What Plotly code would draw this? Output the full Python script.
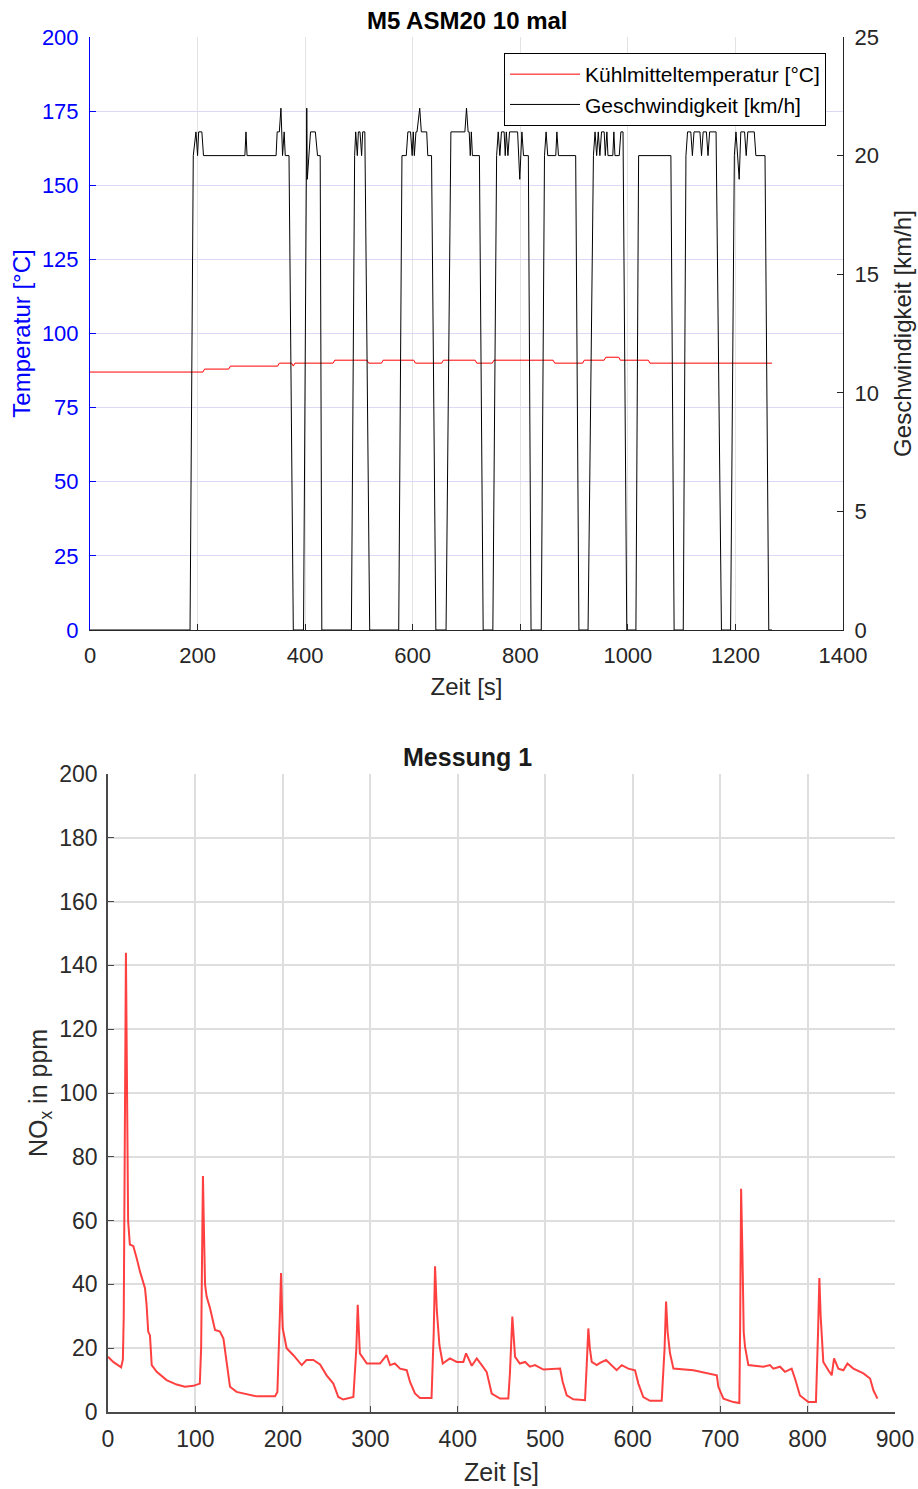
import plotly.graph_objects as go

# ---------------- data: top chart ----------------
speed_time = [0, 186, 192, 197, 200, 202, 208, 211, 288, 290, 292, 346, 348, 352, 355, 358, 361, 363, 370, 378,
              397, 403, 404, 410, 419, 423, 428, 431,
              486, 492, 494, 497, 499, 502, 505, 507, 511, 520,
              574, 580, 588, 591, 596, 599, 601, 603, 606, 608, 613, 616, 626, 628, 635, 643,
              662, 671, 697, 700, 703, 705, 707, 709, 711, 724, 731,
              749, 756, 759, 762, 765, 770, 772, 774, 777, 780, 795, 799, 803, 806, 815, 820,
              839, 845, 848, 851, 866, 868, 871, 903, 909,
              926, 936, 939, 942, 945, 948, 951, 956, 958, 961, 963, 972, 974, 976, 984, 987, 991, 998,
              1015, 1020, 1080, 1086,
              1103, 1108, 1111, 1117, 1120, 1123, 1134, 1137, 1140, 1146, 1149, 1152, 1164, 1174,
              1191, 1198, 1201, 1204, 1207, 1210, 1217, 1220, 1223, 1235, 1238, 1255, 1262, 1268]
speed_kmh = [0, 0, 20, 21, 20, 21, 21, 20, 20, 21, 20, 20, 21, 21, 22, 20, 21, 20, 20, 0,
             0, 22, 19, 21, 21, 20, 20, 0,
             0, 20, 21, 20, 21, 21, 20, 21, 21, 0,
             0, 20, 20, 21, 21, 20, 21, 20, 21, 21, 22, 21, 21, 20, 20, 0,
             0, 21, 21, 22, 21, 21, 20, 21, 20, 20, 0,
             0, 20, 21, 20, 21, 21, 20, 21, 20, 21, 21, 19, 21, 20, 20, 0,
             0, 20, 21, 20, 20, 21, 20, 20, 0,
             0, 20, 21, 20, 21, 20, 21, 21, 20, 21, 20, 20, 21, 20, 20, 21, 21, 0,
             0, 20, 20, 0,
             0, 20, 21, 21, 20, 21, 21, 20, 21, 21, 20, 21, 21, 0,
             0, 20, 21, 20, 19, 21, 21, 20, 21, 21, 20, 20, 0, 0]

temp_time = [0, 210, 213, 258, 261, 349, 352, 375, 378, 381, 452, 455, 515, 518, 542, 545, 602, 605,
             654, 657, 716, 719, 748, 751, 861, 864, 916, 919, 956, 959, 983, 986, 1038, 1041, 1268]
temp_c = [87, 87, 88, 88, 89, 89, 90, 90, 89, 90, 90, 91, 91, 90, 90, 91, 91, 90,
          90, 91, 91, 90, 90, 91, 91, 90, 90, 91, 91, 92, 92, 91, 91, 90, 90]

# ---------------- data: bottom chart ----------------
nox_time = [0, 6, 15, 17, 18, 19.5, 20.5, 21.5, 23, 25, 29, 33, 36.6, 42.3, 44, 46, 48, 50, 55.7, 67, 78.5, 88,
            97.6, 105, 106.5, 107.8, 108.6, 109.5, 111, 112.8, 116.7, 122.4, 128, 132, 135.7, 139.5, 147,
            158.6, 170, 191, 193.7, 196.5, 197.9, 199, 199.8, 204.3, 212, 221.5, 227, 234.8, 242.5, 250,
            257.7, 263.4, 269, 280.6, 284, 285.6, 287, 288, 296, 311, 318.7, 322.5, 328, 334, 341.6, 345.4,
            351, 356.8, 370, 372.5, 374, 376, 379, 382.8, 391, 398.8, 406.4, 409.5, 416, 421.7, 427.4, 433,
            438.8, 448.3, 457.8, 459.6, 462.4, 465.5, 471, 477, 482.6, 488.3, 497.9, 517, 520, 524.6, 532.1,
            545.5, 547.5, 549.3, 551, 553.2, 558.9, 562.7, 569.6, 576, 581.7, 587.5, 595, 602.7, 606.5,
            612.2, 619.8, 633.2, 636.5, 638.2, 640, 642.7, 646.6, 669.5, 696.2, 698, 703.8, 715.2, 722,
            723, 724, 725.5, 727, 728.5, 732.3, 749.5, 757, 760.9, 768.5, 774.2, 781.8, 785.6, 791.3,
            800.8, 809.6, 812, 813.5, 815, 818, 823.8, 827.6, 830.3, 835.2, 841, 845.6, 852.4, 863.9,
            871.5, 875.3, 879.9]
nox_ppm = [17.3, 15.7, 14, 16.5, 30, 90, 144, 110, 60, 52.5, 52, 48, 44, 38.8, 34, 25.2, 24, 14.7, 12.6, 10, 8.6, 7.9,
           8.2, 8.9, 20, 55, 74, 60, 40, 36.2, 32.5, 25.7, 25.2, 23, 14.7, 7.9, 6.3,
           5.5, 4.9, 4.9, 6.3, 30, 43.6, 32, 26.2, 20, 17.8, 14.7, 16.3, 16.3, 14.9, 11.5,
           8.9, 4.7, 3.9, 4.7, 20, 33.6, 25, 18.4, 15.2, 15.2, 17.8, 14.7, 15.2, 13.6, 13.1, 9.4,
           5.8, 4.4, 4.4, 25, 45.7, 32, 21, 15.2, 16.8, 15.7, 15.7, 18.4, 14.5, 16.8, 14.7, 12.6,
           5.8, 4.2, 4.2, 12, 29.9, 17.3, 15.2, 15.7, 14.2, 14.7, 13.3, 13.6, 9.4, 5.2, 4,
           3.7, 15, 26.2, 20, 15.7, 14.7, 15.4, 16.3, 14.7, 13.1, 14.7, 13.6, 13.1, 8.9,
           4.7, 3.5, 3.5, 20, 34.6, 25, 18.4, 13.6, 13.1, 11.5, 7.9, 4.2, 3.1, 2.8,
           30, 70, 50, 25, 20.5, 14.7, 14.2, 14.7, 13.6, 14.2, 12.6, 13.6, 10.5, 5.2,
           3.1, 3.1, 25, 42, 30, 15.7, 13.1, 11.5, 16.8, 13.6, 13.1, 15.2, 13.6, 12.1,
           10.5, 6.8, 4.2]

# ---------------- layout helpers ----------------
W, H = 918, 1489
FONT = "Arial, Liberation Sans, Helvetica, sans-serif"


def px_x(p):
    return p / W


def px_y(p):
    return 1 - p / H


fig = go.Figure()

fig.add_trace(go.Scatter(x=temp_time, y=temp_c, mode="lines", name="Kühlmitteltemperatur [°C]",
                         line=dict(color="#ff0000", width=1), xaxis="x", yaxis="y"))
fig.add_trace(go.Scatter(x=speed_time, y=speed_kmh, mode="lines", name="Geschwindigkeit [km/h]",
                         line=dict(color="#000000", width=1), xaxis="x", yaxis="y2"))
fig.add_trace(go.Scatter(x=nox_time, y=nox_ppm, mode="lines", showlegend=False,
                         line=dict(color="rgba(255,30,30,0.85)", width=2), xaxis="x3", yaxis="y3"))

top_dom_y = [px_y(630), px_y(37)]
bot_dom_y = [px_y(1412), px_y(774)]

fig.update_layout(
    width=W, height=H,
    margin=dict(l=0, r=0, t=0, b=0, autoexpand=False),
    paper_bgcolor="white", plot_bgcolor="white",
    font=dict(family=FONT, size=22, color="#000000"),
    showlegend=True,
    legend=dict(x=px_x(826), y=px_y(53), xanchor="right", yanchor="top",
                bgcolor="white", bordercolor="#000000", borderwidth=1,
                font=dict(family=FONT, size=21, color="#000000"),
                itemwidth=70, tracegroupgap=0),
    xaxis=dict(domain=[px_x(90), px_x(843)], range=[0, 1400], dtick=200, anchor="y", automargin=False,
               showline=True, linecolor="#262626", linewidth=1,
               ticks="inside", ticklen=6, tickcolor="#262626",
               showgrid=True, gridcolor="#e3e3e3", gridwidth=1, zeroline=False,
               tickfont=dict(size=22, color="#262626"), ticklabelstandoff=6,
               title=dict(text="Zeit [s]", font=dict(size=24, color="#262626"), standoff=10)),
    yaxis=dict(domain=top_dom_y, range=[0, 200], dtick=25, anchor="x", automargin=False,
               showline=True, linecolor="#0000ff", linewidth=1,
               ticks="inside", ticklen=6, tickcolor="#0000ff",
               showgrid=True, gridcolor="#dadaf7", gridwidth=1, zeroline=False,
               tickfont=dict(size=22, color="#0000ff"), ticklabelstandoff=6,
               title=dict(text="Temperatur [°C]", font=dict(size=24, color="#0000ff"), standoff=4)),
    yaxis2=dict(range=[0, 25], dtick=5, overlaying="y", side="right", anchor="x", automargin=False,
                showline=True, linecolor="#262626", linewidth=1,
                ticks="inside", ticklen=6, tickcolor="#262626",
                showgrid=False, zeroline=False,
                tickfont=dict(size=22, color="#262626"), ticklabelstandoff=6,
                title=dict(text="Geschwindigkeit [km/h]", font=dict(size=24, color="#262626"), standoff=16)),
    xaxis3=dict(domain=[px_x(108), px_x(895)], range=[0, 900], dtick=100, anchor="y3", automargin=False,
                showline=True, linecolor="#4a4a4a", linewidth=1.5,
                ticks="inside", ticklen=6, tickcolor="#4a4a4a",
                showgrid=True, gridcolor="#dedede", gridwidth=1.5, zeroline=False,
                tickfont=dict(size=23, color="#2b2b2b"), ticklabelstandoff=6,
                title=dict(text="Zeit [s]", font=dict(size=25, color="#2b2b2b"), standoff=12)),
    yaxis3=dict(domain=bot_dom_y, range=[0, 200], dtick=20, anchor="x3", automargin=False,
                showline=True, linecolor="#4a4a4a", linewidth=1.5,
                ticks="inside", ticklen=6, tickcolor="#4a4a4a",
                showgrid=True, gridcolor="#dedede", gridwidth=1.5, zeroline=False,
                tickfont=dict(size=23, color="#2b2b2b"), ticklabelstandoff=4,
                title=dict(text="NO<sub>x</sub> in ppm", font=dict(size=25, color="#2b2b2b"), standoff=5)),
    annotations=[
        dict(text="<b>M5 ASM20 10 mal</b>", x=px_x(467), y=px_y(20), xref="paper", yref="paper",
             xanchor="center", yanchor="middle", showarrow=False,
             font=dict(family=FONT, size=24, color="#000000")),
        dict(text="<b>Messung 1</b>", x=px_x(467), y=px_y(757), xref="paper", yref="paper",
             xanchor="center", yanchor="middle", showarrow=False,
             font=dict(family=FONT, size=25, color="#1a1a1a")),
    ],
)

fig.write_html("out.html")
